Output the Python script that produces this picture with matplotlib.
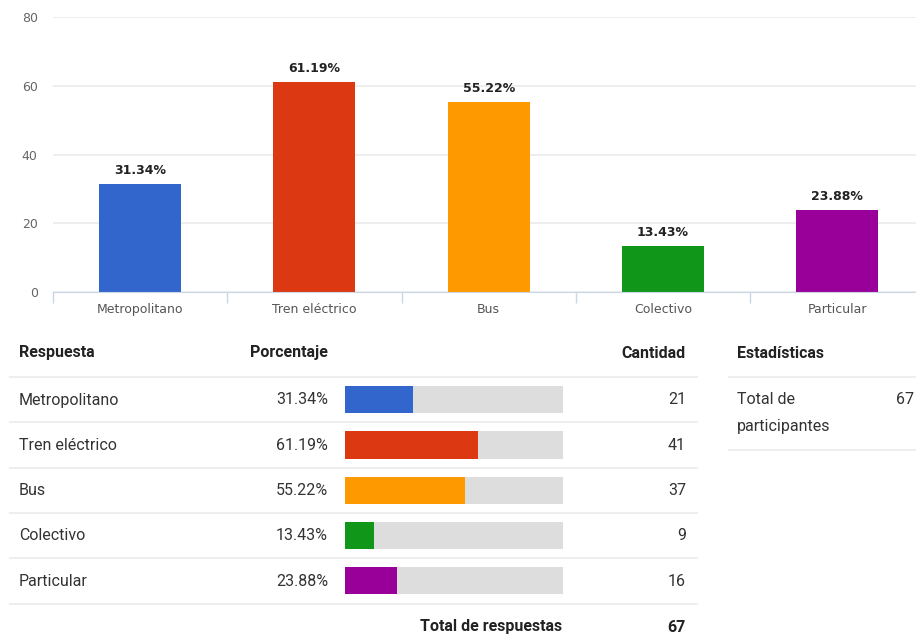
import matplotlib
matplotlib.use('Agg')
import matplotlib.pyplot as plt

categorias = ['Metropolitano', 'Tren eléctrico', 'Bus', 'Colectivo', 'Particular']
porcentajes = [31.34, 61.19, 55.22, 13.43, 23.88]
cantidades = [21, 41, 37, 9, 16]
total_respuestas = 67
total_participantes = 67
colores = ['#3366cc', '#dc3912', '#ff9900', '#109618', '#990099']

W, H = 916, 637
fig = plt.figure(figsize=(W / 100, H / 100), dpi=100)

def box(x0, y0, x1, y1):
    # pixel box (top-left origin) -> figure fraction
    return [x0 / W, 1 - y1 / H, (x1 - x0) / W, (y1 - y0) / H]

# --- column chart ---
slot = 174.3
ax = fig.add_axes(box(53, 17, 53 + 5 * slot, 292))
x = range(len(categorias))
ax.bar(x, porcentajes, width=0.47, color=colores, zorder=3)
ax.set_xlim(-0.5, 4.5)
ax.set_ylim(0, 80)
ax.set_yticks([0, 20, 40, 60, 80])
ax.grid(axis='y', color='#ebebeb', linewidth=1.2, zorder=0)
for s in ['top', 'right', 'left']:
    ax.spines[s].set_visible(False)
ax.spines['bottom'].set_color('#c9d7e8')
ax.spines['bottom'].set_zorder(4)
ax.tick_params(axis='y', length=0, pad=11, labelsize=9, labelcolor='#666666')
ax.set_xticks([i - 0.5 for i in range(5)], minor=False)
ax.set_xticklabels([])
ax.tick_params(axis='x', which='major', length=8, color='#c9d7e8', width=1)
ax.set_xticks(list(x), minor=True)
ax.set_xticklabels(categorias, minor=True)
ax.tick_params(axis='x', which='minor', length=0, pad=8, labelsize=9, labelcolor='#555555')
for i, p in enumerate(porcentajes):
    ax.text(i, p + 2.0, f'{p:.2f}%', ha='center', va='bottom', fontsize=9,
            fontweight='bold', color='#222222')

# --- response table ---
tf = 'Roboto'
fs = 11.5
tab = fig.add_axes(box(0, 320, W, H))
tab.set_xlim(0, W)
tab.set_ylim(H, 320)
tab.axis('off')

line_c = '#eeeeee'
hdr = dict(fontsize=fs, fontweight='bold', family=tf, va='center', color='#222222')
txt = dict(fontsize=fs, family=tf, va='center', color='#333333')
row_y = [400 + i * 45.3 for i in range(len(categorias))]
sep_y = [377 + i * 45.3 for i in range(len(categorias) + 1)]

tab.text(19, 353, 'Respuesta', **hdr)
tab.text(328, 353, 'Porcentaje', ha='right', **hdr)
tab.text(686, 353, 'Cantidad', ha='right', **hdr)
for y in sep_y:
    tab.plot([10, 697], [y, y], color=line_c, linewidth=1.5)
for i, cat in enumerate(categorias):
    y = row_y[i]
    tab.text(19, y, cat, **txt)
    tab.text(328, y, f'{porcentajes[i]:.2f}%', ha='right', **txt)
    tab.text(686, y, str(cantidades[i]), ha='right', **txt)
tab.text(562, 627, 'Total de respuestas', ha='right', **hdr)
tab.text(686, 627, str(total_respuestas), ha='right', **hdr)

# percentage bars inside the table
bx = fig.add_axes(box(345, sep_y[0], 563, sep_y[-1]))
bx.set_xlim(0, 100)
bx.set_ylim(len(categorias) - 0.5, -0.5)
bx.axis('off')
rows = list(range(len(categorias)))
bx.barh(rows, [100] * len(rows), height=0.6, color='#dddddd')
bx.barh(rows, porcentajes, height=0.6, color=colores)

# statistics box
tab.text(737, 353, 'Estadísticas', **hdr)
tab.plot([729, W], [377, 377], color=line_c, linewidth=1.5)
tab.text(737, 400, 'Total de', **txt)
tab.text(737, 427, 'participantes', **txt)
tab.text(914, 400, str(total_participantes), ha='right', **txt)
tab.plot([729, W], [450, 450], color=line_c, linewidth=1.5)

fig.savefig('out.png', dpi=100)
